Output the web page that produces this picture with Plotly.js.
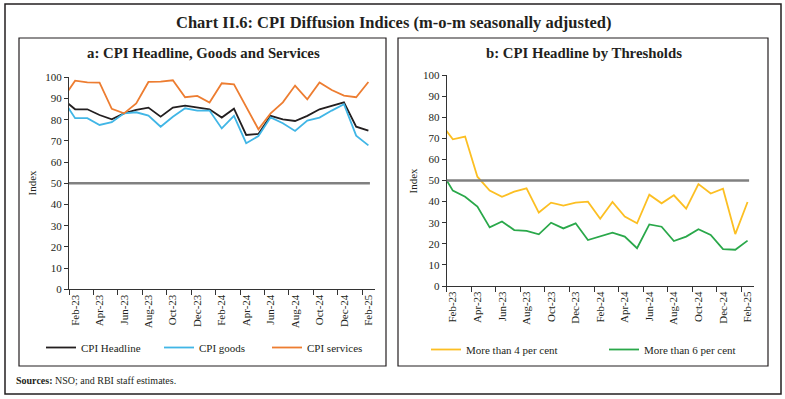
<!DOCTYPE html>
<html>
<head>
<meta charset="utf-8">
<script src="https://cdn.plot.ly/plotly-3.0.1.min.js"></script>
<style>html,body{margin:0;padding:0;background:#fff;}#chart{width:785px;height:399px;}</style>
</head>
<body>
<div id="chart"></div>
<script>
// Months (Jan-23 is only partly visible: clipped at the left edge of the plots)
const months = ['Jan-23','Feb-23','Mar-23','Apr-23','May-23','Jun-23','Jul-23','Aug-23','Sep-23','Oct-23','Nov-23','Dec-23',
  'Jan-24','Feb-24','Mar-24','Apr-24','May-24','Jun-24','Jul-24','Aug-24','Sep-24','Oct-24','Nov-24','Dec-24','Jan-25','Feb-25'];

// Panel a
const cpiHeadline = [89.7, 84.9, 84.9, 82.2, 80.2, 83.0, 84.6, 85.7, 81.4, 85.7, 86.6, 85.8, 84.9, 81.0, 85.2, 72.8, 73.3, 81.8, 80.2, 79.4, 81.8, 84.9, 86.5, 88.2, 76.7, 74.8];
const cpiGoods    = [89.5, 80.7, 80.7, 77.5, 78.8, 83.0, 83.5, 81.9, 76.7, 81.4, 85.4, 84.3, 84.3, 75.9, 81.8, 68.9, 72.3, 81.1, 78.3, 74.7, 79.6, 81.0, 84.3, 87.3, 72.5, 67.9];
const cpiServices = [90.0, 98.4, 97.6, 97.5, 85.1, 83.0, 87.7, 97.8, 98.0, 98.6, 90.6, 91.2, 88.1, 97.2, 96.7, 86.0, 75.5, 83.0, 88.2, 96.1, 89.6, 97.6, 94.0, 91.4, 90.6, 97.8];

// Panel b
const moreThan4 = [77.3, 69.5, 70.8, 51.8, 45.2, 42.3, 44.7, 46.3, 34.8, 39.5, 38.1, 39.5, 40.0, 31.9, 39.8, 32.9, 29.7, 43.3, 39.2, 43.0, 36.7, 48.3, 43.8, 46.1, 24.6, 39.8];
const moreThan6 = [54.8, 45.2, 42.3, 37.6, 27.8, 30.6, 26.5, 26.1, 24.5, 30.0, 27.3, 29.7, 21.8, 23.4, 25.3, 23.4, 17.9, 29.2, 28.1, 21.3, 23.4, 26.9, 24.2, 17.5, 17.2, 21.5];

const threshold = 50;

const W = 785, H = 399;
const px = v => v / W;
const py = v => 1 - v / H;

const SERIF = 'Liberation Serif, Times New Roman, serif';
const txt = '#231f20';

function line(x, y, name, color, xa, ya, legend) {
  return {type: 'scatter', mode: 'lines', x: x, y: y, name: name, xaxis: xa, yaxis: ya, legend: legend,
    line: {color: color, width: 1.8}, hoverinfo: 'skip'};
}

const data = [
  line(months, cpiHeadline, 'CPI Headline', '#231f20', 'x', 'y', 'legend'),
  line(months, cpiGoods, 'CPI goods', '#41b6e6', 'x', 'y', 'legend2'),
  line(months, cpiServices, 'CPI services', '#ed7d31', 'x', 'y', 'legend3'),
  line(months, moreThan4, 'More than 4 per cent', '#fcbf23', 'x2', 'y2', 'legend4'),
  line(months, moreThan6, 'More than 6 per cent', '#2aa84a', 'x2', 'y2', 'legend5')
];

function xax(d, anchor) {
  return {domain: d, anchor: anchor, type: 'category', range: [0.5, 25.5],
    tickmode: 'linear', tick0: 1, dtick: 2, tickson: 'boundaries',
    ticks: 'outside', ticklen: 5, tickcolor: '#333', tickwidth: 1,
    tickangle: -90, showline: true, linecolor: '#333', linewidth: 1, showgrid: false, zeroline: false,
    tickfont: {family: SERIF, size: 11, color: txt}, fixedrange: true, automargin: false};
}
function yax(d, anchor) {
  return {domain: d, anchor: anchor, range: [0, 100], tickmode: 'linear', tick0: 0, dtick: 10,
    ticks: 'outside', ticklen: 4, tickcolor: '#333', tickwidth: 1,
    showline: true, linecolor: '#333', linewidth: 1, showgrid: false, zeroline: false,
    tickfont: {family: SERIF, size: 11, color: txt}, fixedrange: true, automargin: false};
}

const legFont = {family: SERIF, size: 11, color: txt};
function leg(x, ytop) {
  return {orientation: 'h', x: px(x), y: py(ytop), xanchor: 'left', yanchor: 'top',
    bgcolor: 'rgba(0,0,0,0)', font: legFont, itemclick: false, itemdoubleclick: false};
}

const layout = {
  width: W, height: H, margin: {l: 0, r: 0, t: 0, b: 0, autoexpand: false},
  paper_bgcolor: '#fff', plot_bgcolor: 'rgba(0,0,0,0)',
  font: {family: SERIF, color: txt},
  xaxis: xax([px(69), px(374.5)], 'y'),
  yaxis: yax([1 - 289.3 / H, 1 - 77.3 / H], 'x'),
  xaxis2: xax([px(446.7), px(753.7)], 'y2'),
  yaxis2: yax([1 - 286 / H, 1 - 75 / H], 'x2'),
  showlegend: true,
  legend: leg(41, 333),
  legend2: leg(159, 333),
  legend3: leg(267, 333),
  legend4: leg(426, 335),
  legend5: leg(604, 335),
  shapes: [
    {type: 'rect', xref: 'paper', yref: 'paper', x0: px(5), x1: px(781), y0: py(394), y1: py(4), line: {color: '#231f20', width: 1.5}},
    {type: 'rect', xref: 'paper', yref: 'paper', x0: px(19), x1: px(386), y0: py(366), y1: py(38), line: {color: '#231f20', width: 1.2}},
    {type: 'rect', xref: 'paper', yref: 'paper', x0: px(398), x1: px(768), y0: py(366), y1: py(38), line: {color: '#231f20', width: 1.2}},
    {type: 'line', xref: 'x domain', yref: 'y', x0: 0, x1: 0.985, y0: threshold, y1: threshold, line: {color: '#808080', width: 2.5}},
    {type: 'line', xref: 'x2 domain', yref: 'y2', x0: 0, x1: 0.985, y0: threshold, y1: threshold, line: {color: '#808080', width: 2.5}}
  ],
  annotations: [
    {xref: 'paper', yref: 'paper', x: px(393), y: py(22), text: '<b>Chart II.6: CPI Diffusion Indices (m-o-m seasonally adjusted)</b>',
      showarrow: false, font: {family: SERIF, size: 16.5, color: txt}, xanchor: 'center', yanchor: 'middle'},
    {xref: 'paper', yref: 'paper', x: px(203), y: py(53), text: '<b>a: CPI Headline, Goods and Services</b>',
      showarrow: false, font: {family: SERIF, size: 14.8, color: txt}, xanchor: 'center', yanchor: 'middle'},
    {xref: 'paper', yref: 'paper', x: px(584), y: py(53), text: '<b>b: CPI Headline by Thresholds</b>',
      showarrow: false, font: {family: SERIF, size: 14.8, color: txt}, xanchor: 'center', yanchor: 'middle'},
    {xref: 'paper', yref: 'paper', x: px(31.5), y: py(183), text: 'Index', textangle: -90,
      showarrow: false, font: {family: SERIF, size: 11, color: txt}, xanchor: 'center', yanchor: 'middle'},
    {xref: 'paper', yref: 'paper', x: px(413), y: py(180.5), text: 'Index', textangle: -90,
      showarrow: false, font: {family: SERIF, size: 11, color: txt}, xanchor: 'center', yanchor: 'middle'},
    {xref: 'paper', yref: 'paper', x: px(14), y: py(380), text: '<b>Sources:</b> NSO; and RBI staff estimates.',
      showarrow: false, font: {family: SERIF, size: 10, color: txt}, xanchor: 'left', yanchor: 'middle'}
  ]
};

Plotly.newPlot('chart', data, layout, {staticPlot: true, displayModeBar: false});
</script>
</body>
</html>
